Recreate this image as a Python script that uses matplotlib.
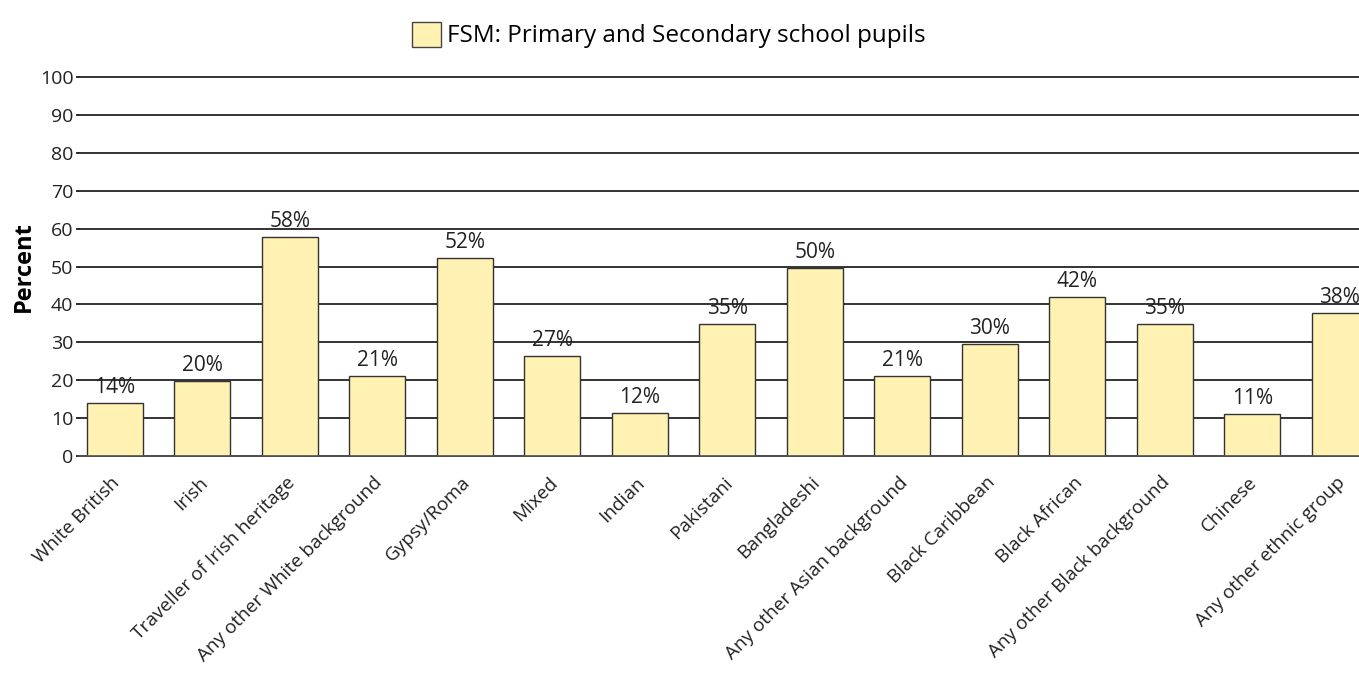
import matplotlib
matplotlib.use("Agg")
import matplotlib.pyplot as plt
from matplotlib.patches import Patch
import matplotlib.transforms as mtransforms

categories = ["White British", "Irish", "Traveller of Irish heritage", "Any other White background",
              "Gypsy/Roma", "Mixed", "Indian", "Pakistani", "Bangladeshi",
              "Any other Asian background", "Black Caribbean", "Black African",
              "Any other Black background", "Chinese", "Any other ethnic group"]
values = [14.1, 19.8, 57.9, 21.1, 52.2, 26.4, 11.3, 34.8, 49.6, 21.1, 29.6, 42.0, 34.8, 11.0, 37.8]
value_labels = ["14%", "20%", "58%", "21%", "52%", "27%", "12%", "35%", "50%", "21%",
                "30%", "42%", "35%", "11%", "38%"]
series_name = "FSM: Primary and Secondary school pupils"
yticks = [0, 10, 20, 30, 40, 50, 60, 70, 80, 90, 100]

plt.rcParams['font.family'] = ['Open Sans', 'DejaVu Sans']

fig = plt.figure(figsize=(13.59, 6.77), dpi=100)
ax = fig.add_axes([79/1359, 1 - 456/677, 1 - 79/1359, (456 - 77)/677])

bar_color = "#FFF2B3"
x = list(range(len(categories)))
ax.bar(x, values, width=0.64, color=bar_color, edgecolor="#333333", linewidth=1.0, zorder=3)

for xi, v, lab in zip(x, values, value_labels):
    ax.text(xi, v + 1.3, lab, ha="center", va="bottom", fontsize=15, color="#222222", zorder=4)

ax.set_ylim(0, 100)
ax.set_xlim(-0.41, 14.22)
ax.set_yticks(yticks)
ax.set_yticklabels([str(t) for t in yticks], fontsize=14, color="#222222")
ax.yaxis.grid(True, color="#111111", linewidth=1.2, zorder=0)
for gl in ax.get_ygridlines():
    gl.set_clip_on(False)
ax.set_axisbelow(True)
ax.tick_params(axis="y", length=2.5, width=1.2, color="#111111", pad=1.5)
ax.tick_params(axis="x", length=0, pad=11)
ax.set_xticks(x)
ax.set_xticklabels(categories, rotation=45, ha="right", rotation_mode="anchor", fontsize=13.7, color="#222222")
offset = mtransforms.ScaledTranslation(-4/100, -2/100, fig.dpi_scale_trans)
for lbl in ax.get_xticklabels():
    lbl.set_transform(lbl.get_transform() + offset)
for s in ["top", "right", "left"]:
    ax.spines[s].set_visible(False)
ax.spines["bottom"].set_color("#555555")
ax.spines["bottom"].set_linewidth(1.2)
ax.spines["bottom"].set_zorder(5)

ax.set_ylabel("Percent", fontsize=17, fontweight="bold")
ax.yaxis.set_label_coords(-0.0336, 0.5)

handle = Patch(facecolor=bar_color, edgecolor="#444444", linewidth=1.0)
fig.legend([handle], [series_name], loc="center", bbox_to_anchor=(669/1359, 1 - 35/677),
           frameon=False, fontsize=17.5, handlelength=1.2, handleheight=1.2, handletextpad=0.25)

fig.savefig("out.png", dpi=100)
